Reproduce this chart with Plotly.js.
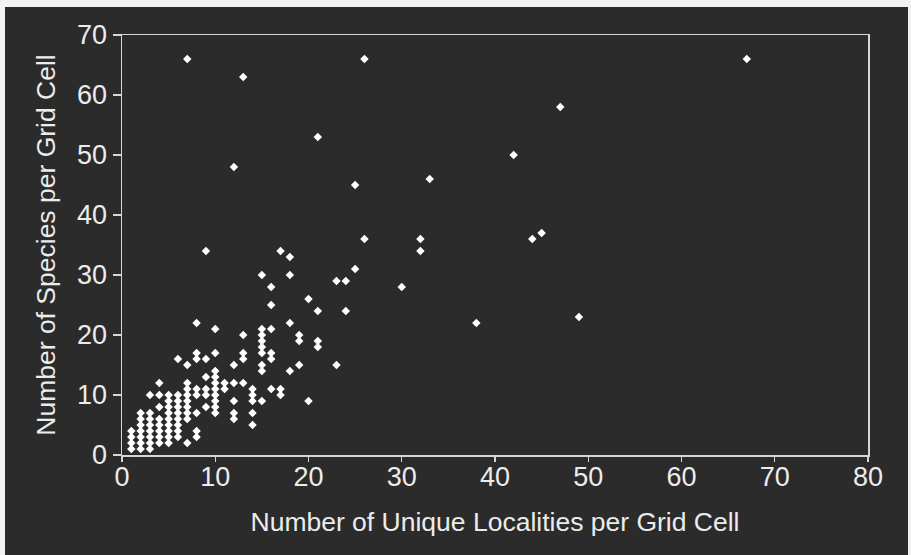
<!DOCTYPE html>
<html>
<head>
<meta charset="utf-8">
<script src="https://cdn.plot.ly/plotly-3.0.1.min.js"></script>
<style>
  html, body { margin: 0; padding: 0; background: #f2f2f2; width: 911px; height: 555px; overflow: hidden; }
  #chart { position: absolute; left: 5px; top: 7px; width: 903px; height: 548px; }
</style>
</head>
<body>
<div id="chart"></div>
<script>
// Number of unique localities per grid cell (x) and number of species per grid cell (y)
const localities = [
  1,1,1,1,
  2,2,2,2,2,2,2,
  3,3,3,3,3,3,3,3,
  4,4,4,4,4,4,4,4,
  5,5,5,5,5,5,5,5,5,
  6,6,6,6,6,6,6,6,6,
  7,7,7,7,7,7,7,7,7,7,
  8,8,8,8,8,8,8,8,
  9,9,9,9,9,9,
  10,10,10,10,10,10,10,10,10,10,
  11,11,
  12,12,12,12,12,12,
  13,13,13,13,13,
  14,14,14,14,14,
  15,15,15,15,15,15,15,15,15,
  16,16,16,16,16,16,
  17,17,17,
  18,18,18,18,
  19,19,19,
  20,20,
  21,21,21,21,
  23,23,
  24,24,
  25,25,
  26,26,
  30,
  32,32,
  33,
  38,
  42,
  44,
  45,
  47,
  49,
  67
];
const species = [
  1,2,3,4,
  1,2,3,4,5,6,7,
  1,2,3,4,5,6,7,10,
  2,3,4,5,6,8,10,12,
  2,3,4,5,6,7,8,9,10,
  3,4,5,6,7,8,9,10,16,
  2,6,7,8,9,10,11,12,15,66,
  3,4,7,10,11,16,17,22,
  8,10,11,13,16,34,
  7,8,9,10,11,12,13,14,17,21,
  11,12,
  6,7,9,12,15,48,
  12,16,17,20,63,
  5,7,9,10,11,
  9,14,15,17,18,19,20,21,30,
  11,16,17,21,25,28,
  10,11,34,
  14,22,30,33,
  15,19,20,
  9,26,
  18,19,24,53,
  15,29,
  24,29,
  31,45,
  36,66,
  28,
  34,36,
  46,
  22,
  50,
  36,
  37,
  58,
  23,
  66
];
const xTicks = [0,10,20,30,40,50,60,70,80];
const yTicks = [0,10,20,30,40,50,60,70];

const fg = '#ececec';
const font = 'Liberation Sans, Arial, Helvetica, sans-serif';

const trace = {
  type: 'scatter',
  mode: 'markers',
  x: localities,
  y: species,
  marker: { symbol: 'diamond', size: 6.5, color: '#ffffff', line: { width: 0 } },
  hoverinfo: 'x+y',
  cliponaxis: false
};

const layout = {
  width: 903,
  height: 548,
  paper_bgcolor: '#2b2b2b',
  plot_bgcolor: '#2b2b2b',
  margin: { l: 117, r: 40, t: 28, b: 100 },
  showlegend: false,
  font: { family: font, color: fg, size: 26 },
  xaxis: {
    range: [0, 80],
    tickvals: xTicks,
    ticktext: xTicks.map(String),
    showgrid: false,
    zeroline: false,
    showline: true,
    linecolor: '#d6d6d6',
    linewidth: 1.5,
    mirror: true,
    ticks: 'outside',
    ticklen: 5,
    tickwidth: 1.2,
    tickcolor: '#d6d6d6',
    ticklabelstandoff: -8,
    tickfont: { family: font, size: 27, color: fg },
    title: { text: 'Number of Unique Localities per Grid Cell', font: { family: font, size: 26.5, color: fg }, standoff: 21 }
  },
  yaxis: {
    range: [0, 70],
    tickvals: yTicks,
    ticktext: yTicks.map(String),
    showgrid: false,
    zeroline: false,
    showline: true,
    linecolor: '#d6d6d6',
    linewidth: 1.5,
    mirror: true,
    ticks: 'outside',
    ticklen: 8,
    tickwidth: 1.2,
    tickcolor: '#d6d6d6',
    tickfont: { family: font, size: 27, color: fg },
    title: { text: 'Number of Species per Grid Cell', font: { family: font, size: 26.5, color: fg }, standoff: 14 }
  }
};

Plotly.newPlot('chart', [trace], layout, { displayModeBar: false, staticPlot: true });
</script>
</body>
</html>
